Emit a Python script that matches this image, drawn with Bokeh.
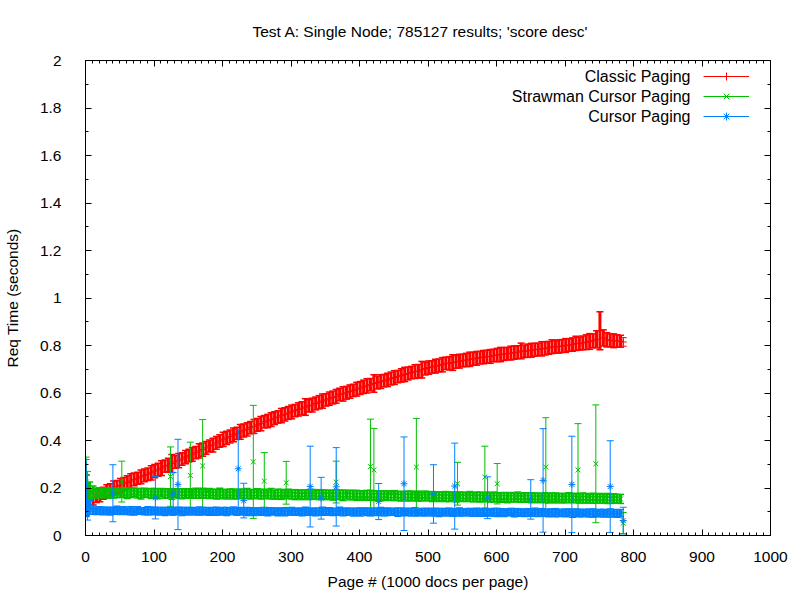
from bokeh.plotting import figure
from bokeh.models import (ColumnDataSource, Range1d, LinearAxis, SingleIntervalTicker,
                          CustomJSTickFormatter, Legend, LegendItem, Label)
from bokeh.core.properties import value
from bokeh.embed import file_html
from bokeh.resources import INLINE

TITLE = "Test A: Single Node; 785127 results; 'score desc'"
X_LABEL = "Page # (1000 docs per page)"
Y_LABEL = "Req Time (seconds)"
SERIES_NAMES = ["Classic Paging", "Strawman Cursor Paging", "Cursor Paging"]
COLORS = ["#ff0000", "#00c000", "#0080ff"]
MARKERS = ["cross", "x", "asterisk"]

pages = list(range(1, 786, 5))

classic = [
    0.17, 0.152, 0.158, 0.166, 0.171, 0.178, 0.186, 0.192, 0.199, 0.205,
    0.211, 0.218, 0.224, 0.229, 0.236, 0.241, 0.247, 0.253, 0.258, 0.264,
    0.271, 0.277, 0.284, 0.292, 0.296, 0.303, 0.31, 0.315, 0.322, 0.33,
    0.336, 0.342, 0.349, 0.356, 0.362, 0.369, 0.377, 0.381, 0.39, 0.398,
    0.405, 0.411, 0.417, 0.424, 0.43, 0.436, 0.442, 0.447, 0.454, 0.459,
    0.466, 0.471, 0.479, 0.482, 0.488, 0.494, 0.499, 0.505, 0.51, 0.516,
    0.52, 0.526, 0.531, 0.536, 0.541, 0.546, 0.549, 0.556, 0.561, 0.566,
    0.571, 0.576, 0.581, 0.586, 0.594, 0.596, 0.601, 0.606, 0.611, 0.616,
    0.621, 0.626, 0.63, 0.635, 0.64, 0.644, 0.648, 0.652, 0.655, 0.661,
    0.665, 0.669, 0.674, 0.678, 0.682, 0.686, 0.69, 0.692, 0.698, 0.703,
    0.707, 0.71, 0.713, 0.716, 0.719, 0.725, 0.725, 0.728, 0.731, 0.734,
    0.737, 0.739, 0.742, 0.744, 0.746, 0.749, 0.751, 0.753, 0.754, 0.758,
    0.76, 0.762, 0.764, 0.766, 0.768, 0.77, 0.772, 0.777, 0.776, 0.778,
    0.78, 0.782, 0.784, 0.786, 0.788, 0.79, 0.795, 0.794, 0.796, 0.798,
    0.8, 0.802, 0.804, 0.809, 0.808, 0.811, 0.814, 0.817, 0.82, 0.826,
    0.862, 0.832, 0.824, 0.822, 0.82, 0.819, 0.818,
]
classic_err = [
    0.085, 0.035, 0.03, 0.027, 0.029, 0.025, 0.028, 0.026, 0.03, 0.027,
    0.029, 0.026, 0.028, 0.031, 0.027, 0.025, 0.029, 0.027, 0.026, 0.03,
    0.028, 0.027, 0.031, 0.026, 0.029, 0.038, 0.027, 0.03, 0.026, 0.028,
    0.027, 0.029, 0.026, 0.03, 0.028, 0.027, 0.025, 0.029, 0.027, 0.026,
    0.03, 0.028, 0.027, 0.029, 0.026, 0.031, 0.027, 0.028, 0.026, 0.029,
    0.027, 0.03, 0.026, 0.028, 0.029, 0.027, 0.026, 0.03, 0.028, 0.027,
    0.029, 0.026, 0.028, 0.027, 0.035, 0.026, 0.029, 0.027, 0.028, 0.03,
    0.026, 0.028, 0.027, 0.029, 0.026, 0.03, 0.027, 0.028, 0.026, 0.029,
    0.027, 0.028, 0.03, 0.026, 0.037, 0.027, 0.029, 0.026, 0.028, 0.027,
    0.029, 0.026, 0.028, 0.03, 0.027, 0.026, 0.029, 0.028, 0.035, 0.027,
    0.028, 0.026, 0.029, 0.027, 0.03, 0.026, 0.028, 0.033, 0.027, 0.029,
    0.026, 0.028, 0.03, 0.027, 0.029, 0.026, 0.028, 0.027, 0.029, 0.026,
    0.028, 0.03, 0.027, 0.026, 0.029, 0.028, 0.027, 0.033, 0.026, 0.028,
    0.029, 0.027, 0.026, 0.03, 0.028, 0.027, 0.029, 0.026, 0.028, 0.027,
    0.029, 0.026, 0.028, 0.03, 0.027, 0.029, 0.031, 0.033, 0.029, 0.036,
    0.08, 0.034, 0.03, 0.027, 0.029, 0.026, 0.025,
]
strawman = [
    0.205, 0.19, 0.183, 0.179, 0.181, 0.178, 0.182, 0.179, 0.177, 0.18,
    0.178, 0.181, 0.177, 0.179, 0.182, 0.178, 0.176, 0.18, 0.178, 0.177,
    0.179, 0.176, 0.18, 0.177, 0.178, 0.175, 0.179, 0.177, 0.176, 0.178,
    0.177, 0.175, 0.178, 0.176, 0.179, 0.175, 0.177, 0.176, 0.174, 0.177,
    0.176, 0.174, 0.177, 0.175, 0.173, 0.176, 0.175, 0.177, 0.174, 0.175,
    0.176, 0.173, 0.175, 0.174, 0.176, 0.172, 0.175, 0.173, 0.174, 0.175,
    0.173, 0.172, 0.174, 0.171, 0.173, 0.172, 0.174, 0.171, 0.172, 0.173,
    0.171, 0.172, 0.17, 0.173, 0.171, 0.169, 0.172, 0.17, 0.171, 0.169,
    0.17, 0.168, 0.171, 0.169, 0.168, 0.17, 0.167, 0.169, 0.168, 0.166,
    0.168, 0.167, 0.165, 0.168, 0.166, 0.167, 0.165, 0.166, 0.164, 0.167,
    0.165, 0.164, 0.166, 0.163, 0.165, 0.164, 0.163, 0.165, 0.162, 0.164,
    0.163, 0.162, 0.164, 0.161, 0.163, 0.162, 0.161, 0.163, 0.16, 0.162,
    0.161, 0.16, 0.162, 0.159, 0.161, 0.16, 0.162, 0.159, 0.16, 0.161,
    0.159, 0.16, 0.158, 0.16, 0.159, 0.157, 0.16, 0.158, 0.159, 0.157,
    0.158, 0.159, 0.157, 0.158, 0.156, 0.158, 0.157, 0.155, 0.157, 0.156,
    0.157, 0.155, 0.156, 0.154, 0.156, 0.155, 0.154,
]
strawman_err = [
    0.05, 0.035, 0.025, 0.021, 0.019, 0.02, 0.018, 0.021, 0.019, 0.02,
    0.018, 0.02, 0.021, 0.019, 0.018, 0.02, 0.022, 0.019, 0.018, 0.021,
    0.019, 0.021, 0.018, 0.02, 0.019, 0.022, 0.018, 0.02, 0.021, 0.019,
    0.02, 0.018, 0.021, 0.019, 0.02, 0.018, 0.021, 0.019, 0.02, 0.022,
    0.018, 0.02, 0.019, 0.021, 0.018, 0.02, 0.019, 0.021, 0.02, 0.018,
    0.021, 0.019, 0.02, 0.018, 0.022, 0.019, 0.02, 0.021, 0.018, 0.02,
    0.019, 0.021, 0.018, 0.02, 0.019, 0.021, 0.02, 0.018, 0.021, 0.019,
    0.02, 0.018, 0.021, 0.019, 0.02, 0.022, 0.018, 0.02, 0.019, 0.021,
    0.018, 0.02, 0.019, 0.021, 0.02, 0.018, 0.021, 0.019, 0.02, 0.018,
    0.021, 0.019, 0.02, 0.018, 0.021, 0.02, 0.019, 0.021, 0.018, 0.02,
    0.019, 0.021, 0.018, 0.02, 0.019, 0.021, 0.02, 0.018, 0.021, 0.019,
    0.02, 0.018, 0.021, 0.019, 0.02, 0.021, 0.018, 0.02, 0.019, 0.021,
    0.018, 0.02, 0.019, 0.021, 0.02, 0.018, 0.021, 0.019, 0.02, 0.018,
    0.021, 0.019, 0.02, 0.018, 0.021, 0.02, 0.019, 0.021, 0.018, 0.02,
    0.019, 0.021, 0.018, 0.02, 0.019, 0.021, 0.02, 0.018, 0.021, 0.019,
    0.02, 0.018, 0.021, 0.019, 0.02, 0.018, 0.019,
]
cursor = [
    0.14, 0.118, 0.108, 0.104, 0.106, 0.103, 0.105, 0.102, 0.104, 0.106,
    0.103, 0.105, 0.102, 0.104, 0.101, 0.105, 0.103, 0.102, 0.104, 0.103,
    0.105, 0.102, 0.103, 0.101, 0.104, 0.102, 0.103, 0.105, 0.101, 0.103,
    0.102, 0.104, 0.101, 0.103, 0.102, 0.104, 0.101, 0.103, 0.102, 0.1,
    0.103, 0.101, 0.102, 0.104, 0.1, 0.102, 0.103, 0.101, 0.102, 0.1,
    0.102, 0.101, 0.103, 0.1, 0.102, 0.101, 0.099, 0.102, 0.1, 0.101,
    0.102, 0.1, 0.101, 0.099, 0.102, 0.1, 0.101, 0.099, 0.1, 0.102,
    0.1, 0.101, 0.099, 0.1, 0.102, 0.099, 0.1, 0.101, 0.098, 0.1,
    0.099, 0.101, 0.1, 0.098, 0.1, 0.099, 0.101, 0.098, 0.1, 0.099,
    0.1, 0.098, 0.099, 0.101, 0.098, 0.099, 0.1, 0.097, 0.099, 0.098,
    0.1, 0.098, 0.099, 0.097, 0.099, 0.098, 0.1, 0.097, 0.098, 0.099,
    0.097, 0.099, 0.098, 0.096, 0.098, 0.099, 0.097, 0.098, 0.096, 0.098,
    0.097, 0.098, 0.096, 0.097, 0.099, 0.096, 0.097, 0.098, 0.095, 0.097,
    0.096, 0.098, 0.095, 0.097, 0.096, 0.095, 0.097, 0.096, 0.094, 0.096,
    0.095, 0.097, 0.094, 0.096, 0.095, 0.093, 0.096, 0.094, 0.095, 0.093,
    0.095, 0.094, 0.093, 0.095, 0.094, 0.093, 0.094,
]
cursor_err = [
    0.06, 0.028, 0.018, 0.016, 0.015, 0.016, 0.014, 0.016, 0.015, 0.017,
    0.015, 0.016, 0.014, 0.017, 0.015, 0.016, 0.014, 0.015, 0.017, 0.016,
    0.014, 0.016, 0.015, 0.017, 0.014, 0.016, 0.015, 0.014, 0.017, 0.015,
    0.016, 0.014, 0.015, 0.017, 0.016, 0.014, 0.016, 0.015, 0.017, 0.014,
    0.015, 0.017, 0.014, 0.016, 0.015, 0.016, 0.014, 0.017, 0.015, 0.016,
    0.014, 0.016, 0.015, 0.017, 0.014, 0.015, 0.016, 0.014, 0.017, 0.015,
    0.016, 0.015, 0.014, 0.016, 0.017, 0.015, 0.014, 0.016, 0.015, 0.017,
    0.014, 0.016, 0.015, 0.014, 0.017, 0.016, 0.015, 0.014, 0.016, 0.015,
    0.017, 0.014, 0.016, 0.015, 0.016, 0.014, 0.017, 0.015, 0.016, 0.014,
    0.015, 0.017, 0.016, 0.014, 0.015, 0.016, 0.017, 0.014, 0.015, 0.016,
    0.014, 0.016, 0.015, 0.017, 0.014, 0.016, 0.015, 0.016, 0.014, 0.017,
    0.015, 0.014, 0.016, 0.015, 0.017, 0.014, 0.016, 0.015, 0.014, 0.016,
    0.017, 0.015, 0.016, 0.014, 0.015, 0.017, 0.016, 0.014, 0.015, 0.016,
    0.014, 0.017, 0.015, 0.016, 0.014, 0.016, 0.015, 0.017, 0.014, 0.015,
    0.016, 0.014, 0.017, 0.015, 0.016, 0.014, 0.015, 0.016, 0.017, 0.014,
    0.015, 0.016, 0.014, 0.017, 0.015, 0.016, 0.015,
]

# extra (off-grid) measurements, incl. the slow outliers
classic_extra_pages = [3, 785]
classic_extra = [0.15, 0.815]
classic_extra_err = [0.045, 0.018]

strawman_extra_pages = [1, 3, 53, 124, 153, 171, 245, 261, 293, 366, 416, 421,
                        483, 543, 583, 601, 672, 719, 745, 785]
strawman_extra = [0.225, 0.2, 0.227, 0.248, 0.253, 0.293, 0.31, 0.229, 0.222,
                  0.225, 0.29, 0.276, 0.288, 0.218, 0.246, 0.218, 0.288, 0.276,
                  0.302, 0.052]
strawman_extra_err = [0.105, 0.07, 0.086, 0.125, 0.14, 0.195, 0.238, 0.12, 0.09,
                      0.088, 0.2, 0.175, 0.205, 0.09, 0.13, 0.085, 0.208, 0.195,
                      0.248, 0.045]

cursor_extra_pages = [1, 3, 40, 102, 128, 135, 223, 231, 328, 344, 366, 428, 465,
                      508, 539, 587, 650, 668, 710, 766, 785]
cursor_extra = [0.21, 0.13, 0.178, 0.159, 0.175, 0.215, 0.281, 0.147, 0.206,
                0.157, 0.205, 0.143, 0.218, 0.175, 0.208, 0.159, 0.152, 0.232,
                0.215, 0.206, 0.063]
cursor_extra_err = [0.11, 0.065, 0.12, 0.089, 0.09, 0.19, 0.165, 0.073, 0.17,
                    0.088, 0.165, 0.076, 0.197, 0.123, 0.181, 0.088, 0.083, 0.218,
                    0.203, 0.193, 0.056]

FONT = "Liberation Sans"

p = figure(width=800, height=600, x_range=Range1d(0, 1000), y_range=Range1d(0, 2),
           output_backend="svg", toolbar_location=None,
           min_border_left=85, min_border_right=30, min_border_top=60, min_border_bottom=65)
p.background_fill_color = "white"
p.border_fill_color = "white"
p.outline_line_color = "black"
p.outline_line_width = 1
p.xgrid.visible = False
p.ygrid.visible = False

p.title.text = TITLE
p.title.text_font = FONT
p.title.text_font_size = "15.5px"
p.title.text_font_style = "normal"
p.title.text_color = "black"
p.title.align = "left"
p.title.offset = 167
p.title.vertical_align = "top"
p.title.standoff = 37

xticker = SingleIntervalTicker(interval=100, num_minor_ticks=10)
yticker = SingleIntervalTicker(interval=0.2, num_minor_ticks=2)
yfmt = CustomJSTickFormatter(code="return tick.toFixed(1).replace(/\\.0$/, '')")
blank_fmt = CustomJSTickFormatter(code="return ''")


def style_axis(ax):
    ax.axis_line_color = "black"
    ax.major_tick_in = 6
    ax.major_tick_out = 0
    ax.minor_tick_in = 3
    ax.minor_tick_out = 0
    ax.major_tick_line_color = "black"
    ax.minor_tick_line_color = "black"
    ax.major_label_text_font = FONT
    ax.major_label_text_font_size = "15.5px"
    ax.major_label_text_color = "black"
    ax.axis_label_text_font = FONT
    ax.axis_label_text_font_size = "15.5px"
    ax.axis_label_text_font_style = "normal"
    ax.axis_label_text_color = "black"


xa = p.xaxis[0]
xa.ticker = xticker
style_axis(xa)
xa.major_label_standoff = 16
xa.axis_label = X_LABEL
xa.axis_label_standoff = 8

ya = p.yaxis[0]
ya.ticker = yticker
ya.formatter = yfmt
style_axis(ya)
ya.major_label_standoff = 24
ya.axis_label = Y_LABEL
ya.axis_label_standoff = 16

top_ax = LinearAxis(ticker=xticker, formatter=blank_fmt)
style_axis(top_ax)
top_ax.major_label_text_font_size = "1px"
top_ax.major_label_standoff = 0
p.add_layout(top_ax, "above")

right_ax = LinearAxis(ticker=yticker, formatter=blank_fmt)
style_axis(right_ax)
right_ax.major_label_text_font_size = "1px"
right_ax.major_label_standoff = 0
p.add_layout(right_ax, "right")


def draw(xs, ys, errs, color, marker, bar_width):
    lo = [y - e for y, e in zip(ys, errs)]
    hi = [y + e for y, e in zip(ys, errs)]
    src = ColumnDataSource(dict(x=xs, y=ys, lo=lo, hi=hi))
    cap_w = 1.5 if bar_width > 1 else 1
    bars = p.segment(x0="x", y0="lo", x1="x", y1="hi", source=src,
                     line_color=color, line_width=bar_width)
    p.scatter("x", "lo", source=src, marker="dash", size=7, line_color=color, line_width=cap_w)
    p.scatter("x", "hi", source=src, marker="dash", size=7, line_color=color, line_width=cap_w)
    pts = p.scatter("x", "y", source=src, marker=marker, size=7,
                    line_color=color, fill_color=color, line_width=1)
    return bars, pts


series = [
    (classic, classic_err, classic_extra_pages, classic_extra, classic_extra_err),
    (strawman, strawman_err, strawman_extra_pages, strawman_extra, strawman_extra_err),
    (cursor, cursor_err, cursor_extra_pages, cursor_extra, cursor_extra_err),
]

items = []
for (ys, es, xp, yx, ex), color, marker in zip(series, COLORS, MARKERS):
    draw(pages, ys, es, color, marker, 3)
    bars, pts = draw(xp, yx, ex, color, marker, 1)
    items.append(LegendItem(label=value(" "), renderers=[bars, pts]))

legend = Legend(items=items, location=(618, 409), orientation="vertical",
                glyph_width=46, glyph_height=20, label_height=20,
                label_standoff=0, label_text_font=FONT, label_text_font_size="15px",
                spacing=0, padding=0, margin=0, border_line_color=None,
                background_fill_alpha=0)
p.add_layout(legend, "center")

for i, name in enumerate(SERIES_NAMES):
    p.add_layout(Label(x=605, y=459 - 20 * i, x_units="screen", y_units="screen",
                       text=name, text_align="right", text_baseline="middle",
                       text_font=FONT, text_font_size="16px", text_color="black"))

open("out.html", "w").write(file_html(p, INLINE))
